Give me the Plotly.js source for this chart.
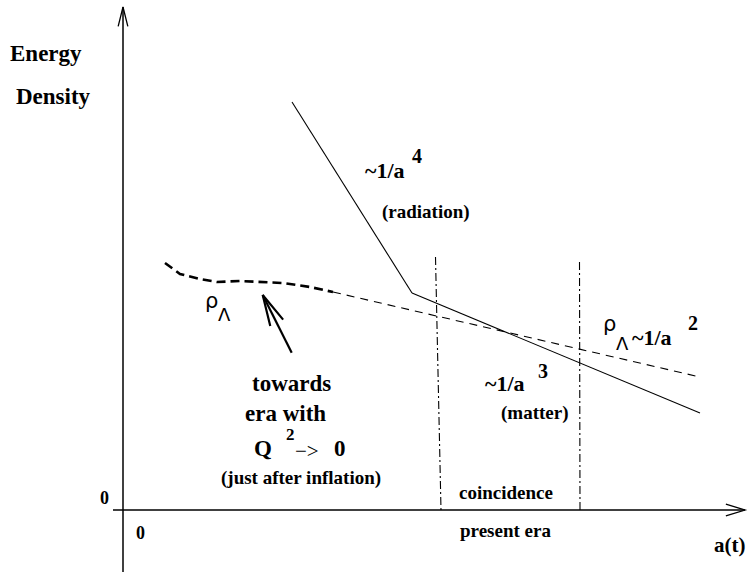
<!DOCTYPE html>
<html>
<head>
<meta charset="utf-8">
<script src="https://cdn.plot.ly/plotly-3.0.1.min.js"></script>
<style>html,body{margin:0;padding:0;background:#fff}#chart{width:748px;height:572px}</style>
</head>
<body>
<div id="chart"></div>
<script>
// ---- data (schematic units: a(t) horizontally, energy density vertically) ----
const radiationA   = [16.9, 28.9];
const radiationRho = [40.8, 21.7];
const matterA      = [28.9, 57.7];
const matterRho    = [21.7, 9.7];
const lambdaEarlyA   = [4.2, 5.7, 7.7, 9.4, 11.7, 13.7, 16.0, 18.7, 21.0];
const lambdaEarlyRho = [24.7, 23.6, 23.1, 22.8, 22.9, 22.8, 22.7, 22.3, 21.8];
const lambdaLateA    = [21.0, 57.7];
const lambdaLateRho  = [21.8, 13.3];
const eraStartA   = [31.25, 31.8];
const eraStartRho = [25.3, 0];
const eraEndA     = [45.65, 45.7];
const eraEndRho   = [24.8, 0];
const pointerA    = [16.87, 13.97];
const pointerRho  = [15.73, 21.5];
const xAxisA   = [-1.0, 62.2];
const xAxisRho = [0, 0];
const yAxisA   = [0, 0];
const yAxisRho = [-6.2, 50.3];

const xRange = [-12.3, 62.5];
const yRange = [-6.2, 51.0];
const W = 748, H = 572;
const pxX = W / (xRange[1] - xRange[0]);
const pxY = H / (yRange[1] - yRange[0]);

function chevron(tx, ty, dx, dy, len, angDeg, width) {
  const ux = dx * pxX, uy = dy * pxY;
  const n = Math.hypot(ux, uy);
  const bx = -ux / n, by = -uy / n;
  const a = angDeg * Math.PI / 180;
  const rot = s => [len * (bx * Math.cos(s * a) - by * Math.sin(s * a)),
                    len * (bx * Math.sin(s * a) + by * Math.cos(s * a))];
  const p1 = rot(1), p2 = rot(-1);
  return {type: 'path', xref: 'x', yref: 'y', xsizemode: 'pixel', ysizemode: 'pixel',
          xanchor: tx, yanchor: ty,
          path: `M${p1[0].toFixed(2)},${p1[1].toFixed(2)} L0,0 L${p2[0].toFixed(2)},${p2[1].toFixed(2)}`,
          line: {color: 'black', width: width}};
}

const line = (x, y, w, dash) => ({x, y, type: 'scatter', mode: 'lines', hoverinfo: 'skip',
  line: {color: 'black', width: w, dash: dash || 'solid'}});

const traces = [
  line(xAxisA, xAxisRho, 1.5),
  line(yAxisA, yAxisRho, 1.5),
  line(radiationA, radiationRho, 1.1),
  line(matterA, matterRho, 1.1),
  line(lambdaEarlyA, lambdaEarlyRho, 2.6, '9px,5px'),
  line(lambdaLateA, lambdaLateRho, 1.1, '8px,6px'),
  line(eraStartA, eraStartRho, 1.1, '8px,3px,2px,3px'),
  line(eraEndA, eraEndRho, 1.1, '8px,3px,2px,3px'),
  line(pointerA, pointerRho, 2.2)
];

const SERIF = 'Liberation Serif, Times New Roman, serif';
const SANS = 'DejaVu Sans, sans-serif';
function txt(x, y, text, size, opts) {
  opts = opts || {};
  return {x, y, xref: 'x', yref: 'y', text, showarrow: false,
    xanchor: opts.xanchor || 'center', yanchor: 'middle',
    font: {family: opts.family || SERIF, size, color: 'black', weight: opts.weight || 'bold'}};
}

const annotations = [
  txt(-7.7, 45.7, 'Energy', 23),
  txt(-7.0, 41.4, 'Density', 23),
  txt(26.2, 34.0, '~1/a', 22),
  txt(29.4, 35.4, '4', 20),
  txt(30.3, 29.8, '(radiation)', 19),
  txt(8.85, 20.9, 'ρ', 21, {family: SANS, weight: 'normal'}),
  txt(10.15, 19.6, 'Λ', 18, {family: SANS, weight: 'normal'}),
  txt(16.8, 12.7, 'towards', 23),
  txt(16.2, 9.7, 'era with', 23),
  txt(16.7, 7.6, '2', 17),
  txt(14.0, 6.2, 'Q', 23),
  txt(18.4, 5.9, '−&gt;', 21, {weight: 'normal'}),
  txt(21.65, 6.2, '0', 23),
  txt(17.8, 3.2, '(just after inflation)', 19),
  txt(38.2, 12.7, '~1/a', 22),
  txt(42.0, 13.9, '3', 20),
  txt(41.2, 9.7, '(matter)', 19),
  txt(48.6, 18.6, 'ρ', 21, {family: SANS, weight: 'normal'}),
  txt(49.95, 16.7, 'Λ', 18, {family: SANS, weight: 'normal'}),
  txt(52.9, 17.3, '~1/a', 22),
  txt(57.0, 18.7, '2', 20),
  txt(38.3, 1.8, 'coincidence', 19),
  txt(38.2, -2.0, 'present era', 19),
  txt(-1.9, 1.2, '0', 18),
  txt(1.7, -2.3, '0', 18),
  txt(60.6, -3.5, 'a(t)', 21)
];

const shapes = [
  chevron(xAxisA[1], xAxisRho[1], 1, 0, 20, 17, 1.3),
  chevron(yAxisA[1], yAxisRho[1], 0, 1, 20, 14, 1.3),
  chevron(pointerA[1], pointerRho[1], pointerA[1] - pointerA[0], pointerRho[1] - pointerRho[0], 32, 13, 2.2)
];

const layout = {
  width: W, height: H,
  margin: {l: 0, r: 0, t: 0, b: 0, pad: 0},
  paper_bgcolor: 'white', plot_bgcolor: 'white',
  showlegend: false,
  xaxis: {range: xRange, visible: false, fixedrange: true},
  yaxis: {range: yRange, visible: false, fixedrange: true},
  annotations, shapes
};

Plotly.newPlot('chart', traces, layout, {displayModeBar: false, staticPlot: true});
</script>
</body>
</html>
